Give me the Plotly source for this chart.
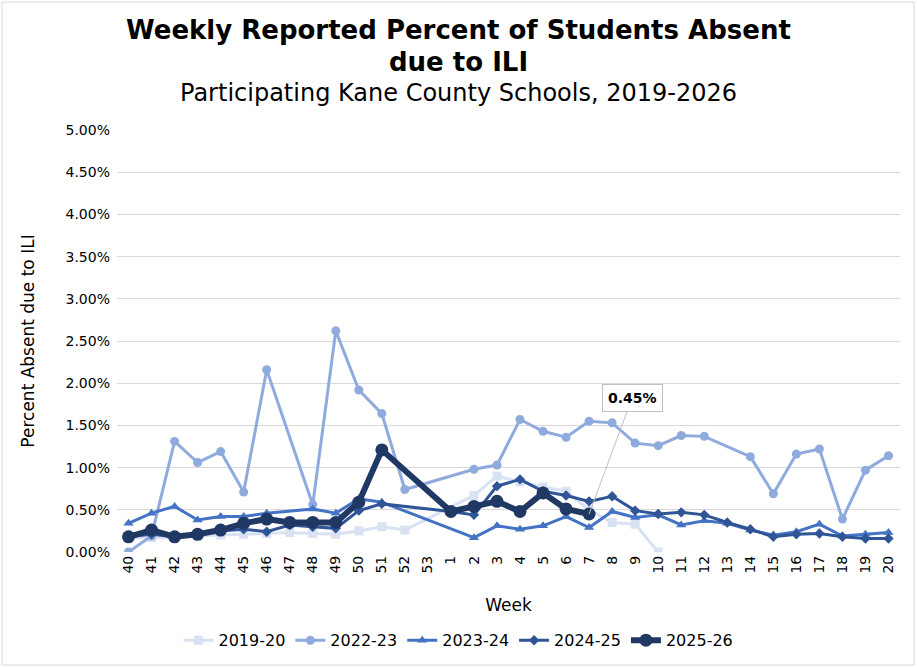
"""
Weekly reported percent of students absent due to influenza-like
illness (ILI) in participating Kane County schools, one line per season.
Writes the chart to out.html.
"""

import plotly.graph_objects as go

# Week labels, season runs from week 40 to week 20 of the next year
WEEKS = [str(w) for w in range(40, 54)] + [str(w) for w in range(1, 21)]

SEASONS = ["2019-20", "2022-23", "2023-24", "2024-25", "2025-26"]

# Percent absent, None where no report was given
S_2019_20 = [0.17, 0.17, 0.17, 0.19, 0.20, 0.21, 0.22, 0.23, 0.22, 0.21,
             0.25, 0.30, 0.26, None, None, 0.67, 0.90, 0.83, 0.77, 0.72,
             0.50, 0.35, 0.33, 0.00, None, None, None, None, None, None,
             None, None, None, None]
S_2022_23 = [0.00, 0.19, 1.31, 1.06, 1.19, 0.71, 2.16, None, 0.56, 2.62,
             1.92, 1.64, 0.74, None, None, 0.98, 1.03, 1.57, 1.43, 1.36,
             1.55, 1.53, 1.29, 1.26, 1.38, 1.37, None, 1.13, 0.69, 1.16,
             1.22, 0.39, 0.97, 1.14]
S_2023_24 = [0.34, 0.46, 0.54, 0.38, 0.42, 0.42, 0.46, None, 0.51, 0.46,
             0.63, 0.59, None, None, None, 0.17, 0.31, 0.27, 0.31, 0.42,
             0.29, 0.48, 0.41, 0.44, 0.32, 0.37, 0.34, 0.26, 0.20, 0.24,
             0.33, 0.19, 0.21, 0.23]
S_2024_25 = [0.18, 0.21, 0.18, 0.21, 0.25, 0.27, 0.24, 0.32, 0.30, 0.28,
             0.49, 0.57, None, None, 0.48, 0.44, 0.78, 0.86, 0.72, 0.67,
             0.60, 0.66, 0.49, 0.45, 0.47, 0.44, 0.35, 0.27, 0.18, 0.21,
             0.22, 0.18, 0.16, 0.16]
S_2025_26 = [0.18, 0.26, 0.18, 0.21, 0.26, 0.34, 0.39, 0.35, 0.35, 0.35,
             0.59, 1.21, None, None, 0.48, 0.54, 0.60, 0.48, 0.70, 0.51,
             0.45, None, None, None, None, None, None, None, None, None,
             None, None, None, None]

Y_TICKS = [0.0, 0.5, 1.0, 1.5, 2.0, 2.5, 3.0, 3.5, 4.0, 4.5, 5.0]
Y_LABELS = [f"{v:.2f}%" for v in Y_TICKS]

# (values, colour, marker symbol, marker size, line width)
STYLES = {
    "2019-20": (S_2019_20, "#D9E2F3", "square", 9, 3),
    "2022-23": (S_2022_23, "#8FAADC", "circle", 9, 3),
    "2023-24": (S_2023_24, "#4472C4", "triangle-up", 9, 3),
    "2024-25": (S_2024_25, "#2F5597", "diamond", 8, 3),
    "2025-26": (S_2025_26, "#203864", "circle", 13, 6),
}

FONT = "DejaVu Sans, Verdana, sans-serif"


def absence_chart() -> go.Figure:
    """
    Builds the line chart with one trace per season and a callout
    on the latest reported week.
    """
    fig = go.Figure()
    for season in SEASONS:
        values, color, symbol, size, width = STYLES[season]
        fig.add_trace(go.Scatter(
            x=WEEKS,
            y=values,
            name=season,
            mode="lines+markers",
            connectgaps=True,
            line=dict(color=color, width=width),
            marker=dict(color=color, symbol=symbol, size=size),
        ))

    # callout on the last 2025-26 value (x given as category index,
    # a string like "7" would be read as an index too)
    last = max(i for i, v in enumerate(S_2025_26) if v is not None)
    fig.add_annotation(
        x=last, y=S_2025_26[last],
        text=f"<b>{S_2025_26[last]:.2f}%</b>",
        showarrow=True, arrowhead=0, arrowwidth=1, arrowcolor="#BFBFBF",
        ax=43, ay=-116,
        bordercolor="#BFBFBF", borderwidth=1, borderpad=5, bgcolor="white",
        font=dict(family=FONT, size=14, color="black"),
    )

    # titles as annotations, multi-line layout titles get placed badly
    titles = [
        ("<b>Weekly Reported Percent of Students Absent</b>", 26, 30),
        ("<b>due to ILI</b>", 26, 62),
        ("Participating Kane County Schools, 2019-2026", 24, 93),
    ]
    for text, size, y_px in titles:
        fig.add_annotation(
            text=text, xref="paper", yref="paper",
            x=(458 - 117) / 783, y=1 + (130 - y_px) / 422,
            xanchor="center", yanchor="middle", showarrow=False,
            font=dict(family=FONT, size=size, color="black"),
        )

    fig.update_layout(
        width=917, height=667,
        margin=dict(l=117, r=17, t=130, b=115),
        paper_bgcolor="white", plot_bgcolor="white",
        font=dict(family=FONT, size=14, color="black"),
        legend=dict(
            orientation="h", xref="container", yref="container",
            x=0.5, xanchor="center", y=0.04, yanchor="middle",
            font=dict(family=FONT, size=16, color="black"),
            itemwidth=30,
        ),
        shapes=[dict(
            type="rect", xref="paper", yref="paper",
            x0=-115 / 783, x1=1 + 14 / 783, y0=-113 / 422, y1=1 + 128 / 422,
            line=dict(color="#D9D9D9", width=1), layer="below",
        )],
    )
    fig.update_xaxes(
        type="category", range=[-0.5, len(WEEKS) - 0.5],
        tickangle=-90, showgrid=False, showline=False, ticks="",
        automargin=False,
        tickfont=dict(family=FONT, size=14, color="black"),
        title=dict(text="Week", standoff=26,
                   font=dict(family=FONT, size=17, color="black")),
    )
    fig.update_yaxes(
        range=[0, 5], tickvals=Y_TICKS, ticktext=Y_LABELS,
        showgrid=True, gridcolor="#D9D9D9", gridwidth=1, zeroline=False,
        showline=False, ticks="", ticklabelstandoff=6, automargin=False,
        tickfont=dict(family=FONT, size=14, color="black"),
        title=dict(text="Percent Absent due to ILI", standoff=26,
                   font=dict(family=FONT, size=17, color="black")),
    )
    return fig


def main():
    fig = absence_chart()
    # drop the default page margin so the chart sits at the window corner
    fig.write_html("out.html",
                   config={"displayModeBar": False},
                   post_script="document.body.style.margin = '0';")


if __name__ == "__main__":
    main()
